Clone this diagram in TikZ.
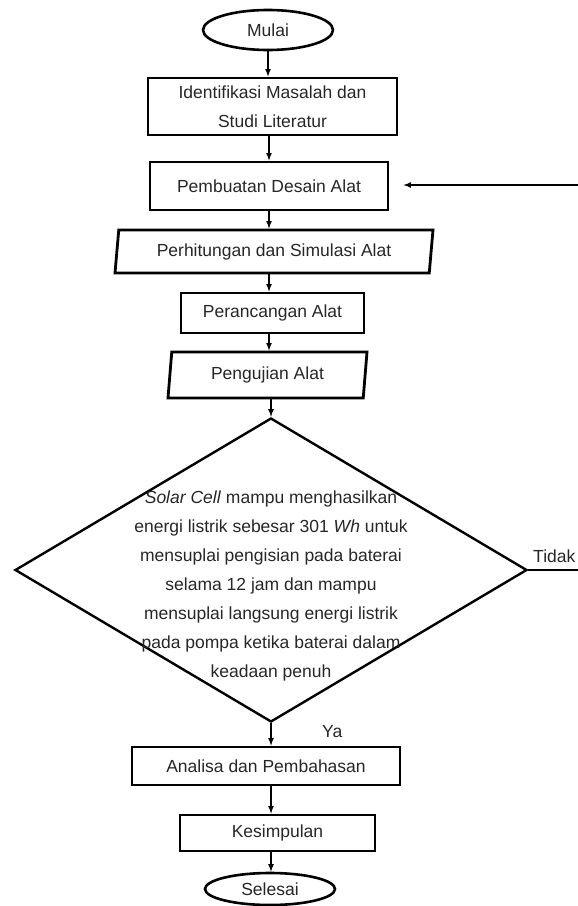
\documentclass[tikz,border=0pt]{standalone}
\usepackage{fontspec}
\setmainfont{Liberation Sans}
\usetikzlibrary{shapes.geometric}
\begin{document}
\begin{tikzpicture}[x=1bp,y=-1bp,
		font=\fontsize{17.5bp}{29bp}\selectfont, text=black!85,
		terminal/.style={ellipse, draw, line width=2.6bp, inner sep=0pt, minimum width=130bp},
		proc/.style={rectangle, draw, line width=2.8bp, inner sep=0pt, align=center},
		io/.style={trapezium, trapezium left angle=77, trapezium right angle=103, trapezium stretches body, draw, line width=2.8bp, inner sep=0pt},
		decision/.style={diamond, draw, line width=2.4bp, inner sep=0pt, minimum width=512bp, minimum height=304bp},
		flow/.style={-latex, line width=1.6bp}]
		\useasboundingbox (0,0) rectangle (578,906);
		% nodes
		\node[terminal, minimum height=40bp] (mulai) at (268,30) {Mulai};
		\node[proc, minimum width=249bp, minimum height=57bp] (identifikasi) at (272.5,106.5) {Identifikasi Masalah dan\\Studi Literatur};
		\node[proc, minimum width=238bp, minimum height=48bp] (desain) at (269,186) {Pembuatan Desain Alat};
		\node[io, minimum width=318bp, minimum height=43bp] (simulasi) at (274,251.5) {Perhitungan dan Simulasi Alat};
		\node[proc, minimum width=183bp, minimum height=40bp] (rancang) at (272.5,313) {Perancangan Alat};
		\node[io, minimum width=199bp, minimum height=46bp] (uji) at (267.5,375) {Pengujian Alat};
		\node[decision] (cek) at (271,570) {};
		\node[align=center, inner sep=0pt] (cektext) at (271,586) {\textit{Solar Cell} mampu menghasilkan\\energi listrik sebesar 301 \textit{Wh} untuk\\mensuplai pengisian pada baterai\\selama 12 jam dan mampu\\mensuplai langsung energi listrik\\pada pompa ketika baterai dalam\\keadaan penuh};
		\node[proc, minimum width=268bp, minimum height=38bp] (analisa) at (266,766) {Analisa dan Pembahasan};
		\node[proc, minimum width=195bp, minimum height=36bp] (simpul) at (277.5,833) {Kesimpulan};
		\node[terminal, minimum height=32bp] (selesai) at (270,889) {Selesai};
		\node[anchor=base west, inner sep=0pt] (ya) at (322,737) {Ya};
		\node[anchor=base west, inner sep=0pt] (tidak) at (533,562) {Tidak};
		\coordinate (loopout) at (578,570);
		\coordinate (loopin) at (578,185);
		% connectors
		\draw[flow] (mulai.south) -- (mulai.south |- identifikasi.north);
		\draw[flow] (identifikasi.south -| desain) -- (desain.north);
		\draw[flow] (desain.south) -- (desain.south |- simulasi.north);
		\draw[flow] (simulasi.south -| desain) -- (desain |- rancang.north);
		\draw[flow] (rancang.south -| desain) -- (desain |- uji.north);
		\draw[flow] (uji.south -| cek) -- (cek.north);
		\draw[flow] (cek.south) -- (cek.south |- analisa.north);
		\draw[flow] (analisa.south -| cek) -- (cek |- simpul.north);
		\draw[flow] (simpul.south -| cek) -- (cek |- selesai.north);
		\draw[line width=1.6bp] (cek.east) -- (loopout);
		\draw[flow, shorten >=14bp] (loopin) -- (loopin -| desain.east);
	\end{tikzpicture}
\end{document}
